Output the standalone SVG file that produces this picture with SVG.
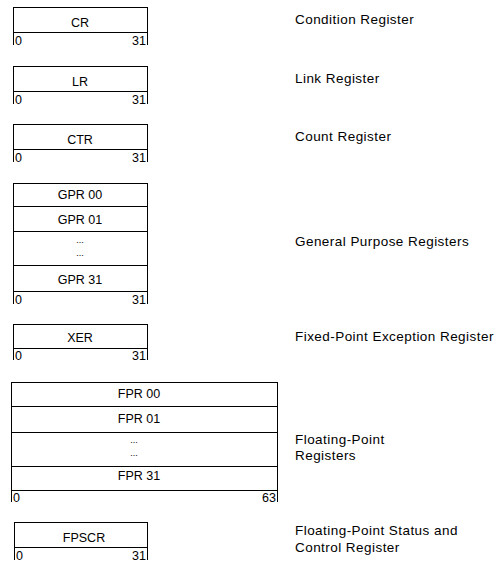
<svg xmlns="http://www.w3.org/2000/svg" width="497" height="563" viewBox="0 0 497 563">
<style>
  .box { fill: #fff; stroke: #000; stroke-width: 1; }
  .ln { stroke: #000; stroke-width: 1; fill: none; }
  .t { font-family: "Liberation Sans", Arial, sans-serif; font-size: 12.5px; fill: #000; text-anchor: middle; }
  .n { font-family: "Liberation Sans", Arial, sans-serif; font-size: 12.5px; fill: #000; }
  .ne { text-anchor: end; }
  .d { font-family: "Liberation Sans", Arial, sans-serif; font-size: 9px; fill: #000; text-anchor: middle; }
  .lbl { font-family: "Liberation Sans", Arial, sans-serif; font-size: 13.5px; fill: #000; letter-spacing: 0.45px; }
</style>
<rect width="497" height="563" fill="#fff"/>

<g id="cr">
  <rect class="box" x="13.5" y="7.5" width="134" height="25"/>
  <path class="ln" d="M13.5 32.5V45M147.5 32.5V45"/>
  <text class="t" x="80" y="27">CR</text>
  <text class="n" x="15" y="45">0</text>
  <text class="n ne" x="146" y="45">31</text>
  <text class="lbl" x="295" y="24">Condition Register</text>
</g>

<g id="lr">
  <rect class="box" x="13.5" y="66.5" width="134" height="25"/>
  <path class="ln" d="M13.5 91.5V104M147.5 91.5V104"/>
  <text class="t" x="80" y="86">LR</text>
  <text class="n" x="15" y="104">0</text>
  <text class="n ne" x="146" y="104">31</text>
  <text class="lbl" x="295" y="83">Link Register</text>
</g>

<g id="ctr">
  <rect class="box" x="13.5" y="124.5" width="134" height="25"/>
  <path class="ln" d="M13.5 149.5V162M147.5 149.5V162"/>
  <text class="t" x="80" y="144">CTR</text>
  <text class="n" x="15" y="162">0</text>
  <text class="n ne" x="146" y="162">31</text>
  <text class="lbl" x="295" y="141">Count Register</text>
</g>

<g id="gpr">
  <rect class="box" x="13.5" y="183.5" width="134" height="108"/>
  <path class="ln" d="M13.5 206.5H147.5M13.5 231.5H147.5M13.5 265.5H147.5M13.5 291.5V304M147.5 291.5V304"/>
  <text class="t" x="80" y="199">GPR 00</text>
  <text class="t" x="80" y="224">GPR 01</text>
  <text class="d" x="80" y="243">...</text>
  <text class="d" x="80" y="256">...</text>
  <text class="t" x="80" y="284">GPR 31</text>
  <text class="n" x="15" y="304">0</text>
  <text class="n ne" x="146" y="304">31</text>
  <text class="lbl" x="295" y="246">General Purpose Registers</text>
</g>

<g id="xer">
  <rect class="box" x="13.5" y="324.5" width="134" height="24"/>
  <path class="ln" d="M13.5 348.5V360M147.5 348.5V360"/>
  <text class="t" x="80" y="342">XER</text>
  <text class="n" x="15" y="360">0</text>
  <text class="n ne" x="146" y="360">31</text>
  <text class="lbl" x="295" y="341">Fixed-Point Exception Register</text>
</g>

<g id="fpr">
  <rect class="box" x="11.5" y="382.5" width="266" height="108"/>
  <path class="ln" d="M11.5 406.5H277.5M11.5 432.5H277.5M11.5 466.5H277.5M11.5 490.5V502M277.5 490.5V502"/>
  <text class="t" x="139" y="398">FPR 00</text>
  <text class="t" x="139" y="423">FPR 01</text>
  <text class="d" x="134" y="443">...</text>
  <text class="d" x="134" y="456">...</text>
  <text class="t" x="139" y="480">FPR 31</text>
  <text class="n" x="13" y="502">0</text>
  <text class="n ne" x="276" y="502">63</text>
  <text class="lbl" x="295" y="444">Floating-Point</text>
  <text class="lbl" x="295" y="460">Registers</text>
</g>

<g id="fpscr">
  <rect class="box" x="14.5" y="522.5" width="133" height="25"/>
  <path class="ln" d="M14.5 547.5V560M147.5 547.5V560"/>
  <text class="t" x="84" y="542">FPSCR</text>
  <text class="n" x="16" y="560">0</text>
  <text class="n ne" x="146" y="560">31</text>
  <text class="lbl" x="295" y="535">Floating-Point Status and</text>
  <text class="lbl" x="295" y="552">Control Register</text>
</g>
</svg>
